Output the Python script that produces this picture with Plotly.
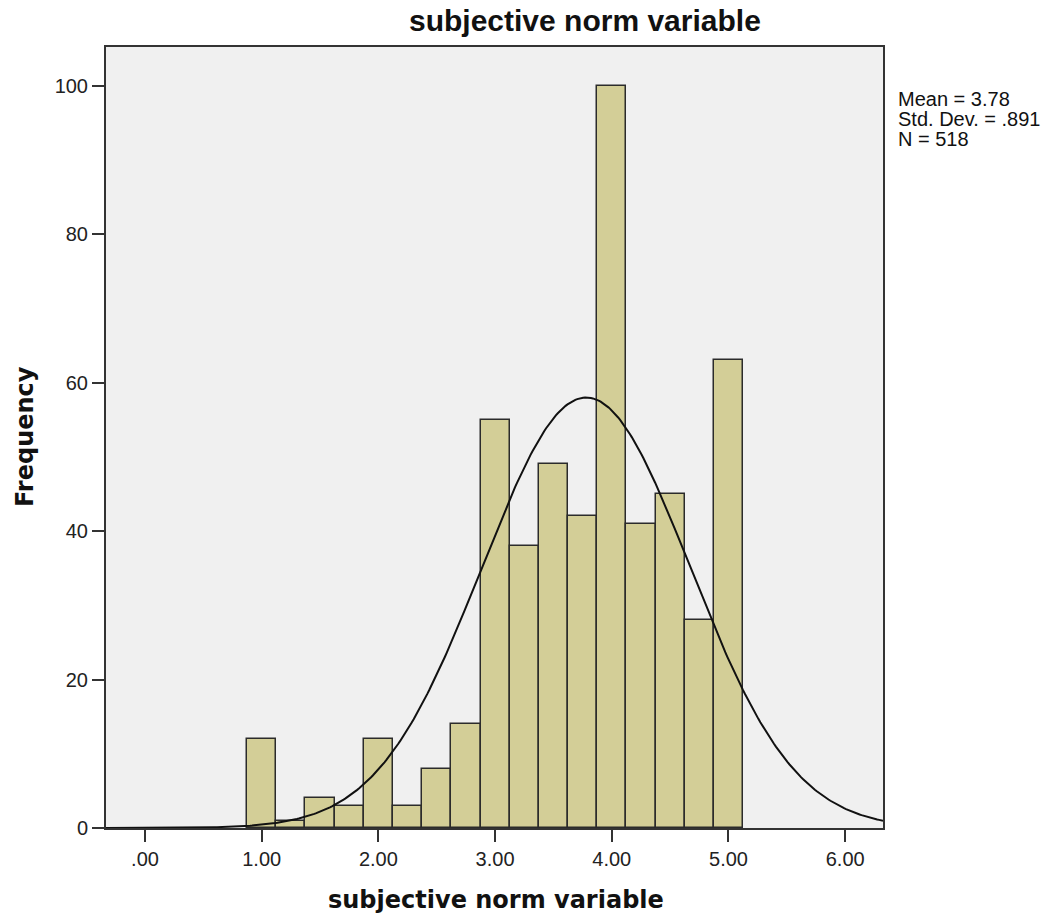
import numpy as np
import plotly.graph_objects as go

# Data
bin_centers = [1.0, 1.25, 1.5, 1.75, 2.0, 2.25, 2.5, 2.75, 3.0, 3.25, 3.5, 3.75, 4.0, 4.25, 4.5, 4.75, 5.0]
frequencies = [12, 1, 4, 3, 12, 3, 8, 14, 55, 38, 49, 42, 100, 41, 45, 28, 63]
bin_width = 0.25
mean_val = 3.78
sd_val = 0.891
n_val = 518
stats_lines = ["Mean = 3.78", "Std. Dev. = .891", "N = 518"]
x_tick_vals = [0, 1, 2, 3, 4, 5, 6]
x_tick_text = [".00", "1.00", "2.00", "3.00", "4.00", "5.00", "6.00"]
y_tick_vals = [0, 20, 40, 60, 80, 100]
chart_title = "subjective norm variable"
x_title = "subjective norm variable"
y_title = "Frequency"

x_range = [-0.334, 6.324]
y_range = [0, 105.2]

W, H = 1052, 920
ML, MR, MT, MB = 106, 169, 47, 92
PW, PH = W - ML - MR, H - MT - MB


def px_x(px):
    return (px - ML) / PW


def px_y(py):
    return (H - MB - py) / PH


# Normal curve from the stated statistics
xs = np.linspace(x_range[0], x_range[1], 400)
ys = n_val * bin_width / (sd_val * np.sqrt(2 * np.pi)) * np.exp(-0.5 * ((xs - mean_val) / sd_val) ** 2)

fig = go.Figure()
fig.add_trace(go.Bar(
    x=bin_centers, y=frequencies, width=bin_width,
    marker=dict(color="#D3CE97", line=dict(color="#2b2b2b", width=1.5)),
    showlegend=False,
))
fig.add_trace(go.Scatter(
    x=xs, y=ys, mode="lines",
    line=dict(color="#111111", width=2),
    showlegend=False,
))

annotations = [
    dict(text="<b>%s</b>" % chart_title, xref="paper", yref="paper",
         x=px_x(585), y=px_y(21), xanchor="center", yanchor="middle", showarrow=False,
         font=dict(family="Liberation Sans, Arial, sans-serif", size=30, color="#111111")),
    dict(text="<b>%s</b>" % x_title, xref="paper", yref="paper",
         x=px_x(496), y=px_y(900), xanchor="center", yanchor="middle", showarrow=False,
         font=dict(family="DejaVu Sans, sans-serif", size=24, color="#111111")),
    dict(text="<b>%s</b>" % y_title, xref="paper", yref="paper", textangle=-90,
         x=px_x(25), y=px_y(437), xanchor="center", yanchor="middle", showarrow=False,
         font=dict(family="DejaVu Sans, sans-serif", size=24, color="#111111")),
]
for i, line in enumerate(stats_lines):
    annotations.append(dict(
        text=line, xref="paper", yref="paper",
        x=px_x(896), y=px_y(99 + 20 * i), xanchor="left", yanchor="middle",
        align="left", showarrow=False,
        font=dict(family="Liberation Sans, Arial, sans-serif", size=20, color="#111111"),
    ))

fig.update_layout(
    width=W, height=H,
    margin=dict(l=ML, r=MR, t=MT, b=MB),
    paper_bgcolor="white",
    plot_bgcolor="#F0F0F0",
    font=dict(family="Liberation Sans, Arial, sans-serif", size=20, color="#222222"),
    bargap=0,
    xaxis=dict(
        range=x_range, tickvals=x_tick_vals, ticktext=x_tick_text,
        showgrid=False, zeroline=False,
        showline=True, linecolor="#333333", linewidth=2, mirror=True,
        ticks="outside", ticklen=12, tickwidth=2, tickcolor="#333333",
        tickfont=dict(size=20, color="#222222"),
    ),
    yaxis=dict(
        range=y_range, tickvals=y_tick_vals,
        showgrid=False, zeroline=False,
        showline=True, linecolor="#333333", linewidth=2, mirror=True,
        ticks="outside", ticklen=12, tickwidth=2, tickcolor="#333333",
        tickfont=dict(size=20, color="#222222"),
    ),
    annotations=annotations,
)

fig.write_html("out.html")
